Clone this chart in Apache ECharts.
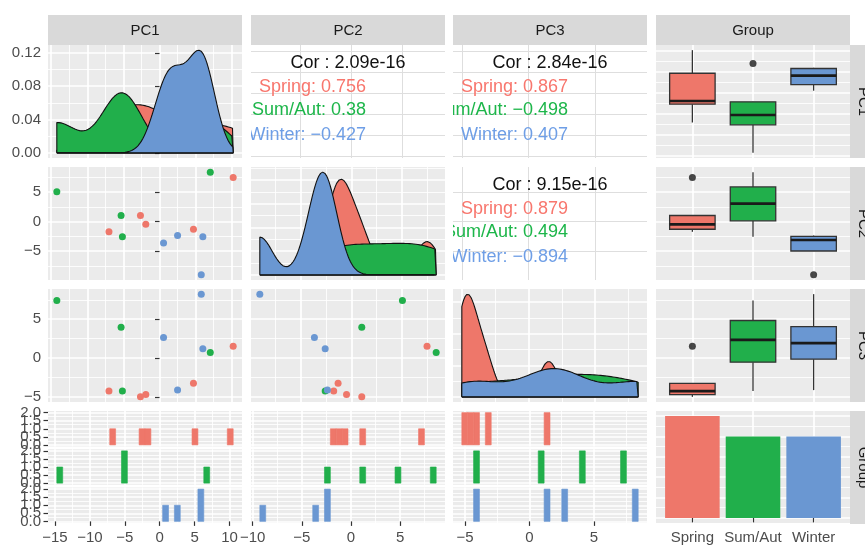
<!DOCTYPE html>
<html>
<head>
<meta charset="utf-8">
<script src="https://cdn.jsdelivr.net/npm/echarts@6/dist/echarts.min.js"></script>
<style>
  html, body { margin: 0; padding: 0; background: #ffffff; }
  #chart { width: 865px; height: 545px; }
</style>
</head>
<body>
<div id="chart"></div>
<script>
// PCA scores (one value per sample)
const groups = ['Spring', 'Sum/Aut', 'Winter'];
const springPC1 = [-7.0, -2.64, -1.9, 4.7, 10.2];
const springPC2 = [-1.73, 1.03, -0.47, -1.3, 7.45];
const springPC3 = [-4.26, -5.0, -4.71, -3.25, 1.52];
const sumAutPC1 = [-14.22, -5.32, -5.14, 7.03];
const sumAutPC2 = [5.03, 1.03, -2.57, 8.35];
const sumAutPC3 = [7.42, 3.97, -4.26, 0.71];
const winterPC1 = [0.56, 2.5, 6.0, 5.78];
const winterPC2 = [-3.63, -2.35, -2.57, -9.0];
const winterPC3 = [2.65, -4.13, 1.19, 8.23];

const pcNames = ['PC1', 'PC2', 'PC3'];
// correlation text, panels (PC1,PC2), (PC1,PC3), (PC2,PC3)
const corTotal = ['2.09e-16', '2.84e-16', '9.15e-16'];
const corSpring = ['0.756', '0.867', '0.879'];
const corSumAut = ['0.38', '\u22120.498', '0.494'];
const corWinter = ['\u22120.427', '0.407', '\u22120.894'];

const fills = ['#EE776A', '#21AF4B', '#6A97D2'];
const textCols = ['#F8766D', '#1DB64A', '#6E9EE6'];
const FONT = 'Liberation Sans';

const pc = [
  [springPC1, sumAutPC1, winterPC1],
  [springPC2, sumAutPC2, winterPC2],
  [springPC3, sumAutPC3, winterPC3]
];

// layout
const colLeft = [48, 251, 453, 656];
const rowTop = [45, 167, 289, 411];
const PW = 194, PH = 113;
const subH = 35.5, subGap = 2.75;
const densityStep = [0.04, 0.05, 0.1];

// ---- helpers ----
function extentOf(arrs) {
  const all = [].concat(...arrs);
  return [Math.min(...all), Math.max(...all)];
}
function expand(r) {
  const d = (r[1] - r[0]) * 0.05;
  return [r[0] - d, r[1] + d];
}
function ticksIn(lo, hi, step) {
  const out = [];
  for (let v = Math.ceil(lo / step - 1e-9) * step; v <= hi + 1e-9; v += step) out.push(+v.toFixed(6));
  return out;
}
function minorsIn(lo, hi, step) {
  return ticksIn(lo, hi, step / 2).filter(v => Math.abs(v / step - Math.round(v / step)) > 1e-6);
}
function q7(s, p) {
  const h = (s.length - 1) * p, i = Math.floor(h);
  const nxt = i + 1 < s.length ? s[i + 1] : s[i];
  return s[i] + (h - i) * (nxt - s[i]);
}
function bwNrd0(x) {
  const n = x.length, m = x.reduce((a, b) => a + b, 0) / n;
  const sd = Math.sqrt(x.reduce((a, b) => a + (b - m) * (b - m), 0) / (n - 1));
  const s = x.slice().sort((a, b) => a - b);
  let lo = Math.min(sd, (q7(s, 0.75) - q7(s, 0.25)) / 1.34);
  if (!lo) lo = sd || Math.abs(x[0]) || 1;
  return 0.9 * lo * Math.pow(n, -0.2);
}
// gaussian density of one group over the variable's data range (as geom_density)
function density(x, from, to) {
  const bw = bwNrd0(x), n = 512, pts = [];
  for (let i = 0; i < n; i++) {
    const t = from + (to - from) * i / (n - 1);
    let d = 0;
    x.forEach(v => { const z = (t - v) / bw; d += Math.exp(-0.5 * z * z); });
    pts.push([t, d / (x.length * bw * Math.sqrt(2 * Math.PI))]);
  }
  return pts;
}
// 30-bin histogram, bins centred on multiples of the width
function histBins(vals, w) {
  const counts = {};
  vals.forEach(v => { const k = Math.ceil(v / w - 0.5 - 1e-9); counts[k] = (counts[k] || 0) + 1; });
  return Object.keys(counts).map(k => [(+k - 0.5) * w, (+k + 0.5) * w, counts[k]]);
}
function boxStats(v) {
  const s = v.slice().sort((a, b) => a - b);
  const q1 = q7(s, 0.25), med = q7(s, 0.5), q3 = q7(s, 0.75), iqr = q3 - q1;
  const inside = s.filter(x => x >= q1 - 1.5 * iqr && x <= q3 + 1.5 * iqr);
  return { lo: Math.min(...inside), q1, med, q3, hi: Math.max(...inside),
           out: s.filter(x => x < q1 - 1.5 * iqr || x > q3 + 1.5 * iqr) };
}
const fmtNum = v => v < 0 ? '\u2212' + String(Math.abs(v)) : String(v);

// ---- scales ----
const pcRange = pc.map(g => expand(extentOf(g)));
const pcData = pc.map(g => extentOf(g));
const dens = pc.map((g, v) => g.map(x => density(x, pcData[v][0], pcData[v][1])));
const densMax = dens.map(g => Math.max(...[].concat(...g.map(d => d.map(p => p[1])))));
const binW = pcData.map(r => (r[1] - r[0]) / 29);
const hists = pc.map((g, v) => g.map(x => histBins(x, binW[v])));
const histMax = hists.map(g => Math.max(...[].concat(...g.map(b => b.map(p => p[2])))));
// histogram panels train their x scale on the bar edges
const histRange = hists.map(g => {
  const bars = [].concat(...g);
  return expand([Math.min(...bars.map(b => b[0])), Math.max(...bars.map(b => b[1]))]);
});

const option = {
  animation: false,
  backgroundColor: '#ffffff',
  grid: [], xAxis: [], yAxis: [], series: [],
  graphic: { elements: [] }
};

const tickStyle = { length: 4.5, lineStyle: { color: '#333333', width: 1.2 } };
const labelStyle = { color: '#4D4D4D', fontSize: 15, fontFamily: FONT, margin: 7, hideOverlap: false,
                     interval: 0, showMinLabel: true, showMaxLabel: true };

function axisPair(dim, gi, cfg) {
  const base = {
    type: 'value', gridIndex: gi, min: cfg.min, max: cfg.max, scale: true,
    axisLine: { show: false }, splitArea: { show: false }
  };
  const pos = dim === 'x' ? 'bottom' : 'left';
  const fmt = cfg.formatter || fmtNum;
  const each = !!(cfg.labels && cfg.labelEach);
  const major = Object.assign({}, base, {
    position: pos,
    axisTick: Object.assign({ show: !!cfg.labels && !each, customValues: cfg.majors }, tickStyle),
    axisLabel: Object.assign({ show: !!cfg.labels && !each, customValues: cfg.majors, formatter: fmt }, labelStyle),
    splitLine: { show: true, lineStyle: { color: cfg.gridColor || '#FFFFFF', width: cfg.gridWidth || 1.7 } }
  });
  const hasMinor = cfg.minors && cfg.minors.length > 0;
  const minor = Object.assign({}, base, {
    position: dim === 'x' ? 'top' : 'right',
    axisTick: { show: false, customValues: hasMinor ? cfg.minors : [cfg.min] },
    axisLabel: { show: false, customValues: hasMinor ? cfg.minors : [cfg.min] },
    splitLine: { show: hasMinor, lineStyle: { color: '#FFFFFF', width: 0.85 } }
  });
  const out = [major, minor];
  // crowded labels (stacked facets) get one axis each so none is dropped
  if (each) {
    cfg.majors.forEach(v => out.push(Object.assign({}, base, {
      position: pos,
      axisTick: Object.assign({ show: true, customValues: [v] }, tickStyle),
      axisLabel: Object.assign({ show: true, customValues: [v], formatter: fmt }, labelStyle),
      splitLine: { show: false }
    })));
  }
  return out;
}
function addGrid(left, top, width, height, bg, xCfg, yCfg) {
  const gi = option.grid.length;
  option.grid.push({ left, top, width, height, show: true, backgroundColor: bg, borderWidth: 0, containLabel: false });
  const xi = option.xAxis.length;
  option.xAxis.push(...axisPair('x', gi, xCfg));
  const yi = option.yAxis.length;
  option.yAxis.push(...axisPair('y', gi, yCfg));
  return { xAxisIndex: xi, yAxisIndex: yi };
}
function contCfg(range, step, extra) {
  return Object.assign({ min: range[0], max: range[1], majors: ticksIn(range[0], range[1], step),
                         minors: minorsIn(range[0], range[1], step) }, extra || {});
}
const groupCfg = extra => Object.assign({ min: 0.4, max: 3.6, majors: [1, 2, 3], minors: [],
  formatter: v => groups[Math.round(v) - 1] }, extra || {});

const corIdx = { '0,1': 0, '0,2': 1, '1,2': 2 };
const corFrac = [0.16, 0.374, 0.574, 0.797];

for (let r = 0; r < 4; r++) {
  for (let c = 0; c < 4; c++) {
    const left = colLeft[c], top = rowTop[r];
    const showX = r === 3, showY = c === 0;
    if (r < 3 && c < 3) {
      if (r === c) {
        const M = densMax[r];
        const ax = addGrid(left, top, PW, PH, '#EBEBEB',
          contCfg(pcRange[c], 5, { labels: showX }),
          contCfg([-0.05 * M, 1.05 * M], densityStep[r], { labels: showY, formatter: v => v.toFixed(2) }));
        dens[r].forEach((d, g) => {
          const poly = [[d[0][0], 0]].concat(d, [[d[d.length - 1][0], 0], [d[0][0], 0]]);
          option.series.push(Object.assign({
            type: 'line', data: poly, symbol: 'none', smooth: false, silent: true, z: 2 + g,
            lineStyle: { color: '#111111', width: 1.1 },
            areaStyle: { color: fills[g], opacity: 1 }
          }, ax));
        });
      } else if (r > c) {
        const ax = addGrid(left, top, PW, PH, '#EBEBEB',
          contCfg(pcRange[c], 5, { labels: showX }),
          contCfg(pcRange[r], 5, { labels: showY }));
        for (let g = 0; g < 3; g++) {
          option.series.push(Object.assign({
            type: 'scatter', symbolSize: 7, silent: true,
            data: pc[c][g].map((x, i) => [x, pc[r][g][i]]),
            itemStyle: { color: fills[g], opacity: 1 }
          }, ax));
        }
      } else {
        const k = corIdx[r + ',' + c];
        const ax = addGrid(left, top, PW, PH, '#FFFFFF',
          contCfg(pcRange[c], 5, { minors: [], gridColor: '#DEDEDE', gridWidth: 1 }),
          contCfg(pcRange[r], 5, { minors: [], gridColor: '#DEDEDE', gridWidth: 1 }));
        const lines = [
          { text: 'Cor : ' + corTotal[k], fill: '#111111', align: 'center' },
          { text: groups[0] + ': ' + corSpring[k], fill: textCols[0], align: 'right' },
          { text: groups[1] + ': ' + corSumAut[k], fill: textCols[1], align: 'right' },
          { text: groups[2] + ': ' + corWinter[k], fill: textCols[2], align: 'right' }
        ];
        option.series.push(Object.assign({
          type: 'custom', clip: true, silent: true,
          data: [[0, 0], [1, 1], [2, 2], [3, 3]],
          encode: { x: 0, y: 1 },
          renderItem: function (params, api) {
            const cs = params.coordSys, L = lines[params.dataIndex];
            return {
              type: 'text',
              x: L.align === 'center' ? cs.x + cs.width / 2 : cs.x + 115,
              y: cs.y + cs.height * corFrac[params.dataIndex],
              style: { text: L.text, fill: L.fill, fontSize: 18, fontFamily: FONT,
                       align: L.align, textAlign: L.align, verticalAlign: 'middle', textVerticalAlign: 'middle' }
            };
          }
        }, ax));
      }
    } else if (c === 3 && r < 3) {
      const ax = addGrid(left, top, PW, PH, '#EBEBEB', groupCfg(), contCfg(pcRange[r], 5, { labels: showY }));
      const stats = pc[r].map(boxStats);
      option.series.push(Object.assign({
        type: 'custom', silent: true,
        data: stats.map((s, g) => [g + 1, s.lo, s.q1, s.med, s.q3, s.hi, g]),
        encode: { x: 0, y: [1, 5] },
        renderItem: function (params, api) {
          const x = api.value(0), hw = 0.375, g = api.value(6);
          const a = api.coord([x - hw, api.value(4)]), b = api.coord([x + hw, api.value(2)]);
          const m1 = api.coord([x - hw, api.value(3)]), m2 = api.coord([x + hw, api.value(3)]);
          const wh = api.coord([x, api.value(5)]), wq3 = api.coord([x, api.value(4)]);
          const wq1 = api.coord([x, api.value(2)]), wl = api.coord([x, api.value(1)]);
          const ln = { stroke: '#333333', lineWidth: 1.3 };
          return { type: 'group', children: [
            { type: 'line', shape: { x1: wq3[0], y1: wq3[1], x2: wh[0], y2: wh[1] }, style: ln },
            { type: 'line', shape: { x1: wq1[0], y1: wq1[1], x2: wl[0], y2: wl[1] }, style: ln },
            { type: 'rect', shape: { x: a[0], y: a[1], width: b[0] - a[0], height: b[1] - a[1] },
              style: { fill: fills[g], stroke: '#333333', lineWidth: 1.3 } },
            { type: 'line', shape: { x1: m1[0], y1: m1[1], x2: m2[0], y2: m2[1] },
              style: { stroke: '#1A1A1A', lineWidth: 2.6 } }
          ] };
        }
      }, ax));
      const outs = [];
      stats.forEach((s, g) => s.out.forEach(v => outs.push([g + 1, v])));
      option.series.push(Object.assign({
        type: 'scatter', symbolSize: 7, silent: true, data: outs, itemStyle: { color: '#1A1A1A' }
      }, ax));
    } else if (r === 3 && c < 3) {
      const K = histMax[c];
      for (let g = 0; g < 3; g++) {
        const ax = addGrid(left, top + g * (subH + subGap), PW, subH, '#EBEBEB',
          contCfg(histRange[c], 5, { labels: g === 2 }),
          contCfg([-0.05 * K, 1.05 * K], K / 4 > 0.3 ? 0.5 : 0.25,
                  { labels: showY, labelEach: true, formatter: v => v.toFixed(1) }));
        option.series.push(Object.assign({
          type: 'custom', silent: true, data: hists[c][g], encode: { x: [0, 1], y: 2 },
          renderItem: function (params, api) {
            const p0 = api.coord([api.value(0), api.value(2)]);
            const p1 = api.coord([api.value(1), 0]);
            return { type: 'rect', shape: { x: p0[0], y: p0[1], width: p1[0] - p0[0], height: p1[1] - p0[1] },
                     style: { fill: fills[g], stroke: fills[g], lineWidth: 0.6 } };
          }
        }, ax));
      }
    } else {
      const counts = pc[0].map(x => x.length);
      const ax = addGrid(left, top, PW, PH, '#EBEBEB', groupCfg({ labels: true }),
        contCfg([-0.05 * 5, 5.25], 1, {}));
      option.series.push(Object.assign({
        type: 'custom', silent: true,
        data: counts.map((n, g) => [g + 1, n, g]), encode: { x: 0, y: 1 },
        renderItem: function (params, api) {
          const x = api.value(0);
          const p0 = api.coord([x - 0.45, api.value(1)]), p1 = api.coord([x + 0.45, 0]);
          return { type: 'rect', shape: { x: p0[0], y: p0[1], width: p1[0] - p0[0], height: p1[1] - p0[1] },
                   style: { fill: fills[api.value(2)] } };
        }
      }, ax));
    }
  }
}

// facet strips
const stripNames = pcNames.concat(['Group']);
stripNames.forEach((name, i) => {
  option.graphic.elements.push(
    { type: 'rect', shape: { x: colLeft[i], y: 15, width: PW, height: 30 }, style: { fill: '#D9D9D9' }, silent: true },
    { type: 'text', x: colLeft[i] + PW / 2, y: 30.5, silent: true,
      style: { text: name, fill: '#1A1A1A', fontSize: 15, fontFamily: FONT,
               align: 'center', textAlign: 'center', verticalAlign: 'middle', textVerticalAlign: 'middle' } },
    { type: 'rect', shape: { x: 850, y: rowTop[i], width: 30, height: PH }, style: { fill: '#D9D9D9' }, silent: true },
    { type: 'text', x: 863, y: rowTop[i] + PH / 2, rotation: -Math.PI / 2, silent: true,
      style: { text: name, fill: '#1A1A1A', fontSize: 15, fontFamily: FONT,
               align: 'center', textAlign: 'center', verticalAlign: 'middle', textVerticalAlign: 'middle' } }
  );
});

const chart = echarts.init(document.getElementById('chart'), null, { renderer: 'canvas' });
chart.setOption(option);
</script>
</body>
</html>
